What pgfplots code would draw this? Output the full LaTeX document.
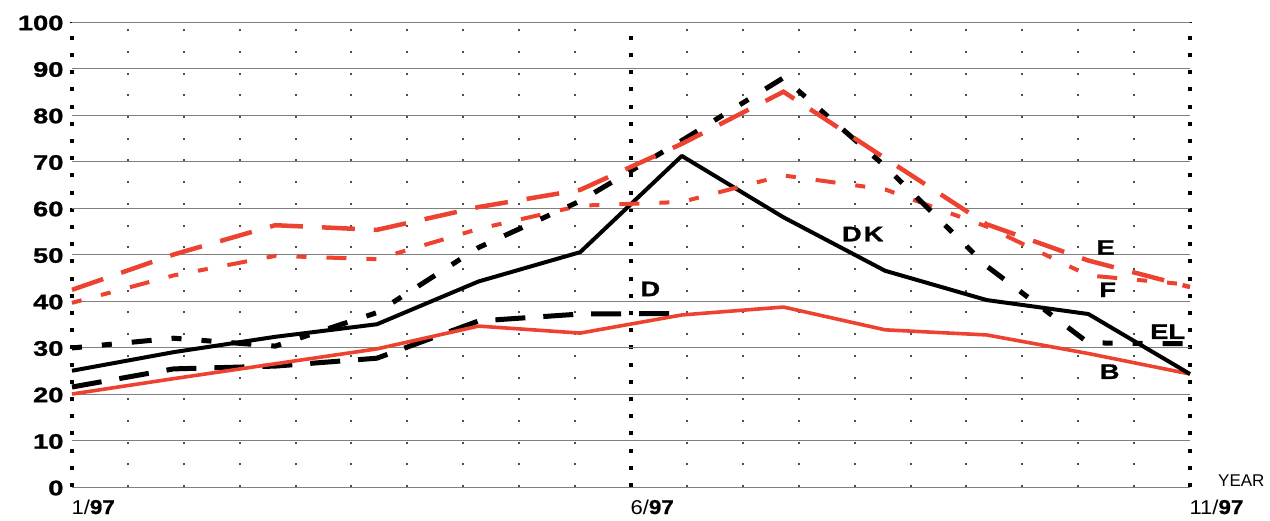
\documentclass[border=0pt]{standalone}
\usepackage{pgfplots}
\pgfplotsset{compat=1.18}
\usepackage{fontspec}
\setmainfont{Liberation Sans}
\newfontfamily\heavy[FakeStretch=1.3,FakeBold=1.2]{Liberation Sans Bold}
\newfontfamily\xheavy[FakeStretch=1.12,FakeBold=1]{Liberation Sans Bold}
\newfontfamily\xlight[FakeStretch=1.1]{Liberation Sans}
\definecolor{chartred}{RGB}{238,66,48}
\begin{document}
\begin{tikzpicture}[x=1pt,y=1pt]
\begin{axis}[
  at={(0,0)}, anchor=south west,
  scale only axis, width=1118pt, height=465pt,
  xmin=0, xmax=11, ymin=0, ymax=100,
  axis line style={draw=none},
  major tick length=0pt, minor tick length=0pt,
  ytick={0,10,...,100},
  xtick={0,5.5,11},
  xticklabels={{\xlight 1/}{\xheavy 97},{\xlight 6/}{\xheavy 97},{\xlight 11/}{\xheavy 97}},
  minor xtick={0.55,1.1,1.65,2.2,2.75,3.3,3.85,4.4,4.95,6.05,6.6,7.15,7.7,8.25,8.8,9.35,9.9,10.45},
  xmajorgrids, xminorgrids, ymajorgrids,
  major x grid style={black, line width=4pt, dash pattern=on 4pt off 13.2pt},
  minor x grid style={black!70, line width=2pt, dash pattern=on 2pt off 19.7pt},
  major y grid style={black!50, line width=0.9pt},
  yticklabel style={font=\fontsize{21}{24}\selectfont\heavy, anchor=east, xshift=-5pt, yshift=-1pt},
  xticklabel style={font=\fontsize{20}{24}\selectfont, anchor=north west, xshift=-4pt, yshift=-9pt},
  /pgf/number format/assume math mode=true,
  clip=false,
]
% D (black long dash)
\addplot[black, line width=5pt, dash pattern=on 30pt off 18pt] coordinates {
(0,21.5) (1,25.4) (2,26.0) (3,27.7) (4,35.7) (5,37.2) (6,37.3)};
% B (red solid)
\addplot[chartred, line width=3.6pt, line join=round] coordinates {
(0,20.0) (1,23.3) (2,26.5) (3,29.7) (4,34.6) (5,33.1) (6,37.0) (7,38.7) (8,33.8) (9,32.7) (10,28.7) (11,24.3)};
% DK (black solid)
\addplot[black, line width=4pt, line join=round] coordinates {
(0,25.0) (1,29.0) (2,32.3) (3,35.0) (4,44.2) (5,50.5) (6,71.2) (7,58.0) (8,46.5) (9,40.2) (10,37.2) (11,24.3)};
% F (red short dash)
\addplot[chartred, line width=4pt, dash pattern=on 10pt off 20pt on 10pt off 20pt on 20pt off 20pt] coordinates {
(0,39.6) (1,45.5) (2,49.7) (3,49.0) (4,55.5) (5,60.5) (6,61.3) (7,67.0) (8,64.0) (9,56.0) (10,45.5) (11,43.5)};
% EL (black short dash)
\addplot[black, line width=5pt, dash pattern=on 10pt off 20pt on 10pt off 20pt on 20pt off 20pt] coordinates {
(0,29.9) (1,32.0) (2,30.3) (3,37.5) (4,51.5) (5,61.5) (6,74.5) (7,88.0) (8,69.0) (9,47.5) (10,31.0) (11,30.8)};
% E (red long dash)
\addplot[chartred, line width=4.5pt, dash pattern=on 33pt off 19pt] coordinates {
(0,42.4) (1,50.0) (2,56.3) (3,55.3) (4,60.2) (5,63.9) (6,73.8) (7,85.0) (8,70.7) (9,56.5) (10,48.7) (11,43.0)};
% labels
\begin{scope}[every node/.style={font=\fontsize{21}{24}\selectfont\heavy, inner sep=0pt}]
\node at (axis cs:7.78,54.4) {D\kern2pt K};
\node at (axis cs:5.69,42.6) {D};
\node at (axis cs:10.17,51.5) {E};
\node at (axis cs:10.19,42.4) {F};
\node at (axis cs:10.78,33.4) {EL};
\node at (axis cs:10.21,24.8) {B};
\end{scope}
\node[anchor=south west, inner sep=0pt, font=\fontsize{17}{20}\selectfont] at (axis cs:11,0) [xshift=28pt] {YEAR};
\end{axis}
\pgfresetboundingbox
\useasboundingbox (-72,-33) rectangle (1198,487);
\end{tikzpicture}
\end{document}
